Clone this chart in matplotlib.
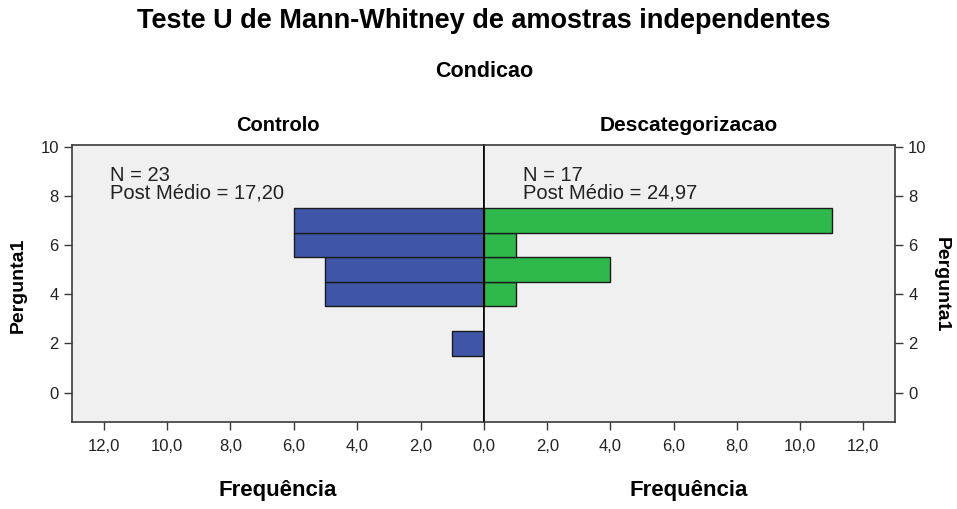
import matplotlib
matplotlib.use("Agg")
import matplotlib.pyplot as plt
import numpy as np

# Data
levels = [2, 4, 5, 6, 7]
controlo = [1, 5, 5, 6, 6]
descat_levels = [4, 5, 6, 7]
descat = [1, 4, 1, 11]
xticks_vals = [0, 2, 4, 6, 8, 10, 12]
yticks_vals = [0, 2, 4, 6, 8, 10]
title = "Teste U de Mann-Whitney de amostras independentes"
group_title = "Condicao"
groups = ["Controlo", "Descategorizacao"]
stats_left = "N = 23\nPost Médio = 17,20"
stats_right = "N = 17\nPost Médio = 24,97"

plt.rcParams['font.family'] = ['Liberation Sans', 'DejaVu Sans']

fig = plt.figure(figsize=(9.57, 5.09), dpi=100)
fig.patch.set_facecolor('white')

bg = '#f0f0f0'
frame = '#3a3a3a'
blue = '#3f56a8'
green = '#2fb84b'

axL = fig.add_axes([0.0752, 0.1709, 0.4305, 0.5442])
axR = fig.add_axes([0.5057, 0.1709, 0.4295, 0.5442])

for ax in (axL, axR):
    ax.set_facecolor(bg)
    ax.set_ylim(-1.2, 10.07)
    ax.set_yticks(yticks_vals)
    for s in ax.spines.values():
        s.set_color(frame)
        s.set_linewidth(1.2)
    ax.tick_params(colors=frame, length=6, width=1.0, labelsize=12, labelcolor='#222222')

axL.barh(levels, controlo, height=1.0, color=blue, edgecolor='#1a1a1a', linewidth=1.0)
axR.barh(descat_levels, descat, height=1.0, color=green, edgecolor='#1a1a1a', linewidth=1.0)

axL.set_xlim(13, 0)
axR.set_xlim(0, 13)
axL.set_xticks(xticks_vals)
axL.set_xticklabels([f"{v:.1f}".replace('.', ',') for v in xticks_vals])
axR.set_xticks(xticks_vals[1:])
axR.set_xticklabels([f"{v:.1f}".replace('.', ',') for v in xticks_vals[1:]])
axL.tick_params(axis='x', pad=6)
axR.tick_params(axis='x', pad=6)

axL.set_yticklabels([str(v) for v in yticks_vals])
axR.yaxis.tick_right()
axR.set_yticklabels([str(v) for v in yticks_vals])
axL.spines['right'].set_color('black')
axR.spines['left'].set_color('black')

axL.text(11.8, 9.2, stats_left, ha='left', va='top', fontsize=14.5,
         linespacing=0.85, color='#222222')
axR.text(1.25, 9.2, stats_right, ha='left', va='top', fontsize=14.5,
         linespacing=0.85, color='#222222')

fig.text(0.5057, 0.958, title, ha='center', va='center', fontsize=19.5, fontweight='bold')
fig.text(0.5057, 0.859, group_title, ha='center', va='center', fontsize=15.5, fontweight='bold')
fig.text(0.29, 0.754, groups[0], ha='center', va='center', fontsize=14.5, fontweight='bold')
fig.text(0.72, 0.754, groups[1], ha='center', va='center', fontsize=15, fontweight='bold')
fig.text(0.29, 0.037, "Frequência", ha='center', va='center', fontsize=16, fontweight='bold')
fig.text(0.72, 0.037, "Frequência", ha='center', va='center', fontsize=16, fontweight='bold')
fig.text(0.019, 0.44, "Pergunta1", ha='center', va='center', rotation=90, fontsize=14, fontweight='bold')
fig.text(0.984, 0.44, "Pergunta1", ha='center', va='center', rotation=270, fontsize=14, fontweight='bold')

fig.savefig("out.png", dpi=100, facecolor='white')
